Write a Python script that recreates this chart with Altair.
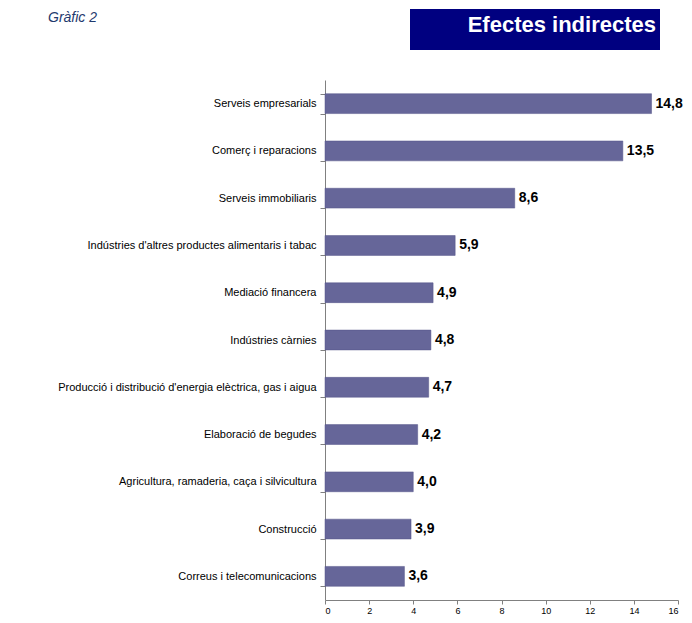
import altair as alt
import pandas as pd

categories = [
    "Serveis empresarials",
    "Comerç i reparacions",
    "Serveis immobiliaris",
    "Indústries d'altres productes alimentaris i tabac",
    "Mediació financera",
    "Indústries càrnies",
    "Producció i distribució d'energia elèctrica, gas i aigua",
    "Elaboració de begudes",
    "Agricultura, ramaderia, caça i silvicultura",
    "Construcció",
    "Correus i telecomunicacions",
]
values = [14.8, 13.5, 8.6, 5.9, 4.9, 4.8, 4.7, 4.2, 4.0, 3.9, 3.6]
x_ticks = [0, 2, 4, 6, 8, 10, 12, 14, 16]

df = pd.DataFrame({"cat": categories, "val": values})

FONT = "Liberation Sans"

y_enc = alt.Y(
    "cat:N",
    sort=categories,
    title=None,
    scale=alt.Scale(paddingInner=0.58, paddingOuter=0.29),
    axis=alt.Axis(
        tickBand="extent",
        tickSize=5,
        labelPadding=4,
        labelFontSize=11,
        labelFont=FONT,
        labelColor="#000000",
        domainColor="#808080",
        tickColor="#808080",
        labelLimit=400,
        grid=False,
    ),
)
x_enc = alt.X(
    "val:Q",
    title=None,
    scale=alt.Scale(domain=[0, 16], nice=False),
    axis=alt.Axis(
        values=x_ticks,
        tickSize=4,
        labelFontSize=9,
        labelFont=FONT,
        labelColor="#000000",
        domainColor="#808080",
        tickColor="#808080",
        labelPadding=2,
        grid=False,
    ),
)

base = alt.Chart(df)

bars = base.mark_bar(color="#666699", stroke="#555588", strokeWidth=0.5).encode(
    x=x_enc, y=y_enc
)

labels = base.transform_calculate(
    lab="replace(format(datum.val, '.1f'), '.', ',')"
).mark_text(
    align="left", baseline="middle", dx=4, fontSize=14, fontWeight="bold", font=FONT, color="#000000"
).encode(x="val:Q", y=alt.Y("cat:N", sort=categories), text="lab:N")

box_df = pd.DataFrame({"t": ["Efectes indirectes"]})
box = alt.Chart(box_df).mark_rect(color="#000080").encode(
    x=alt.value(85), x2=alt.value(335), y=alt.value(-71), y2=alt.value(-30)
)
box_text = alt.Chart(box_df).mark_text(
    align="right", baseline="middle", fontSize=22, fontWeight="bold", font=FONT, color="#FFFFFF"
).encode(x=alt.value(331), y=alt.value(-55), text="t:N")

fig_df = pd.DataFrame({"t": ["Gràfic 2"]})
fig_text = alt.Chart(fig_df).mark_text(
    align="left", baseline="alphabetic", fontSize=14, fontStyle="italic", font=FONT, color="#1F3A6E"
).encode(x=alt.value(-277), y=alt.value(-58), text="t:N")

chart = alt.layer(bars, labels, box, box_text, fig_text).properties(
    width=353,
    height=520,
    background="#FFFFFF",
    autosize=alt.AutoSizeParams(type="none"),
    padding={"left": 317, "top": 72, "right": 6, "bottom": 15},
).configure_view(strokeWidth=0)

chart.save("out.html", embed_options={"renderer": "svg", "actions": False})
